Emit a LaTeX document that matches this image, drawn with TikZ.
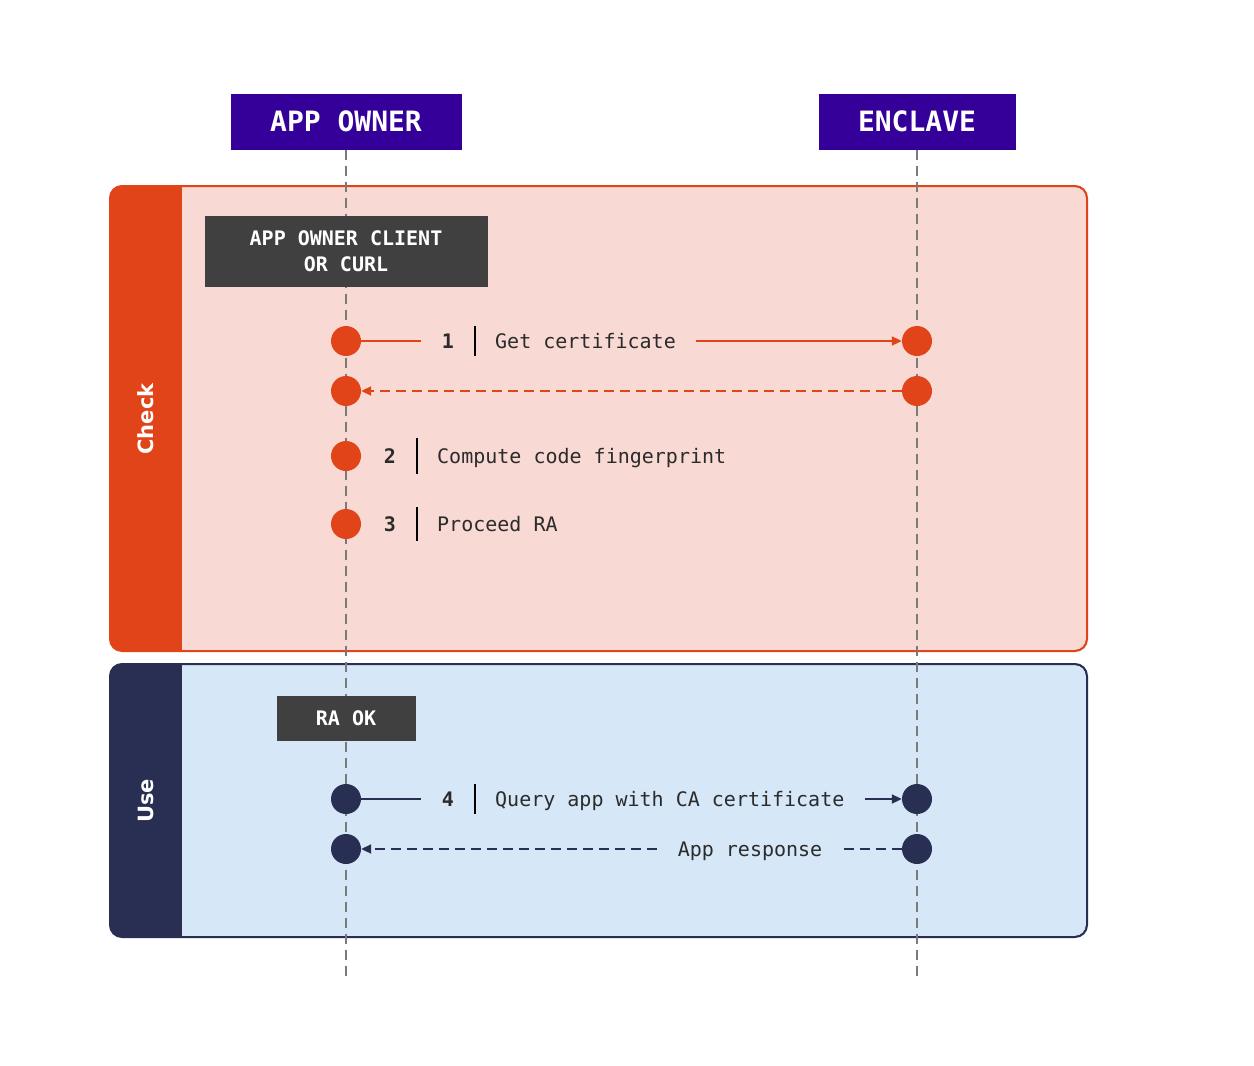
\documentclass[tikz,border=0pt]{standalone}
\usepackage{fontspec}
\setsansfont{DejaVu Sans}
\setmonofont{DejaVu Sans Mono}
\usepackage{tikz}
\usetikzlibrary{arrows.meta}

\definecolor{hdrcol}{HTML}{340099}
\definecolor{chkcol}{HTML}{E2441A}
\definecolor{chkfill}{HTML}{F9D9D3}
\definecolor{usecol}{HTML}{292F52}
\definecolor{usefill}{HTML}{D6E7F7}
\definecolor{tagcol}{HTML}{404040}
\definecolor{lifecol}{HTML}{7A7A7A}
\definecolor{txtcol}{HTML}{2B2B2B}

\begin{document}
\begin{tikzpicture}[x=1pt,y=-1pt,
  hdr/.style={fill=hdrcol, text=white, minimum width=#1, minimum height=56, inner sep=0,
    font=\ttfamily\bfseries\fontsize{28}{32}\selectfont},
  tag/.style={fill=tagcol, text=white, align=center, inner sep=0,
    font=\ttfamily\bfseries\fontsize{20}{26}\selectfont},
  dotc/.style={circle, fill=#1, minimum size=30, inner sep=0},
  life/.style={draw=lifecol, line width=2, dash pattern=on 10pt off 6pt},
  num/.style={anchor=east, inner xsep=21, inner ysep=0, text height=15, text depth=1,
    text=txtcol, font=\ttfamily\bfseries\fontsize{20}{24}\selectfont},
  lbl/.style={anchor=west, inner xsep=20, inner ysep=0, text height=15, text depth=1,
    text=txtcol, font=\ttfamily\fontsize{20}{24}\selectfont},
  bar/.style={draw=black, line width=2},
  msg/.style={draw=#1, line width=2},
  ret/.style={draw=#1, line width=2, dash pattern=on 10pt off 6pt},
  side/.style={rotate=90, text=white, font=\sffamily\bfseries\fontsize{21}{24}\selectfont},
  >={Triangle[length=10pt,width=9pt]}
]
\useasboundingbox[fill=white] (0,0) rectangle (1254,1066);

% check frame
\fill[chkcol, rounded corners=12] (110,186) rectangle (1087,651);
\fill[chkfill] (182,187) [rounded corners=11] -- (1086,187) -- (1086,650) [sharp corners] -- (182,650) -- cycle;
\draw[chkcol, line width=2, rounded corners=12] (110,186) rectangle (1087,651);
\node[side] (check) at (146,419) {Check};

% use frame
\fill[usecol, rounded corners=12] (110,664) rectangle (1087,937);
\fill[usefill] (182,665) [rounded corners=11] -- (1086,665) -- (1086,936) [sharp corners] -- (182,936) -- cycle;
\draw[usecol, line width=2, rounded corners=12] (110,664) rectangle (1087,937);
\node[side] (use) at (146,801) {Use};

% actors and lifelines
\node[hdr=231] (owner) at (346,121.5) {APP OWNER};
\node[hdr=197] (enclave) at (917,121.5) {ENCLAVE};
\coordinate (ownerend) at (346,977);
\coordinate (enclaveend) at (917,977);
\draw[life] (owner.south) -- (ownerend);
\draw[life] (enclave.south) -- (enclaveend);

\node[tag, minimum width=283, minimum height=71] (client) at (346,251.5) {APP OWNER CLIENT\\OR CURL};
\node[tag, minimum width=139, minimum height=45] (raok) at (346,718.5) {RA OK};

% dots
\node[dotc=chkcol] (a1) at (346,341) {};
\node[dotc=chkcol] (e1) at (917,341) {};
\node[dotc=chkcol] (a1b) at (346,391) {};
\node[dotc=chkcol] (e1b) at (917,391) {};
\node[dotc=chkcol] (a2) at (346,456) {};
\node[dotc=chkcol] (a3) at (346,524) {};
\node[dotc=usecol] (a4) at (346,799) {};
\node[dotc=usecol] (e4) at (917,799) {};
\node[dotc=usecol] (a4b) at (346,849) {};
\node[dotc=usecol] (e4b) at (917,849) {};

% step 1
\node[num] (n1) at (475,341) {1};
\node[lbl] (t1) at (475,341) {Get certificate};
\draw[bar] ([yshift=15]t1.west) -- ([yshift=-15]t1.west);
\draw[msg=chkcol] (a1) -- (n1);
\draw[msg=chkcol, ->, chkcol] (t1) -- (e1);
\draw[ret=chkcol, ->, chkcol] (e1b) -- (a1b);

% step 2 and 3
\node[num] (n2) at (417,456) {2};
\node[lbl] (t2) at (417,456) {Compute code fingerprint};
\draw[bar] ([yshift=18]t2.west) -- ([yshift=-18]t2.west);
\node[num] (n3) at (417,524) {3};
\node[lbl] (t3) at (417,524) {Proceed RA};
\draw[bar] ([yshift=17]t3.west) -- ([yshift=-17]t3.west);

% step 4
\node[num] (n4) at (475,799) {4};
\node[lbl] (t4) at (475,799) {Query app with CA certificate};
\draw[bar] ([yshift=15]t4.west) -- ([yshift=-15]t4.west);
\draw[msg=usecol] (a4) -- (n4);
\draw[msg=usecol, ->, usecol] (t4) -- (e4);
\node[lbl, anchor=center, inner xsep=21] (r4) at (750,849) {App response};
\draw[ret=usecol] (e4b) -- (r4);
\draw[ret=usecol, ->, usecol] (r4) -- (a4b);
\end{tikzpicture}
\end{document}
